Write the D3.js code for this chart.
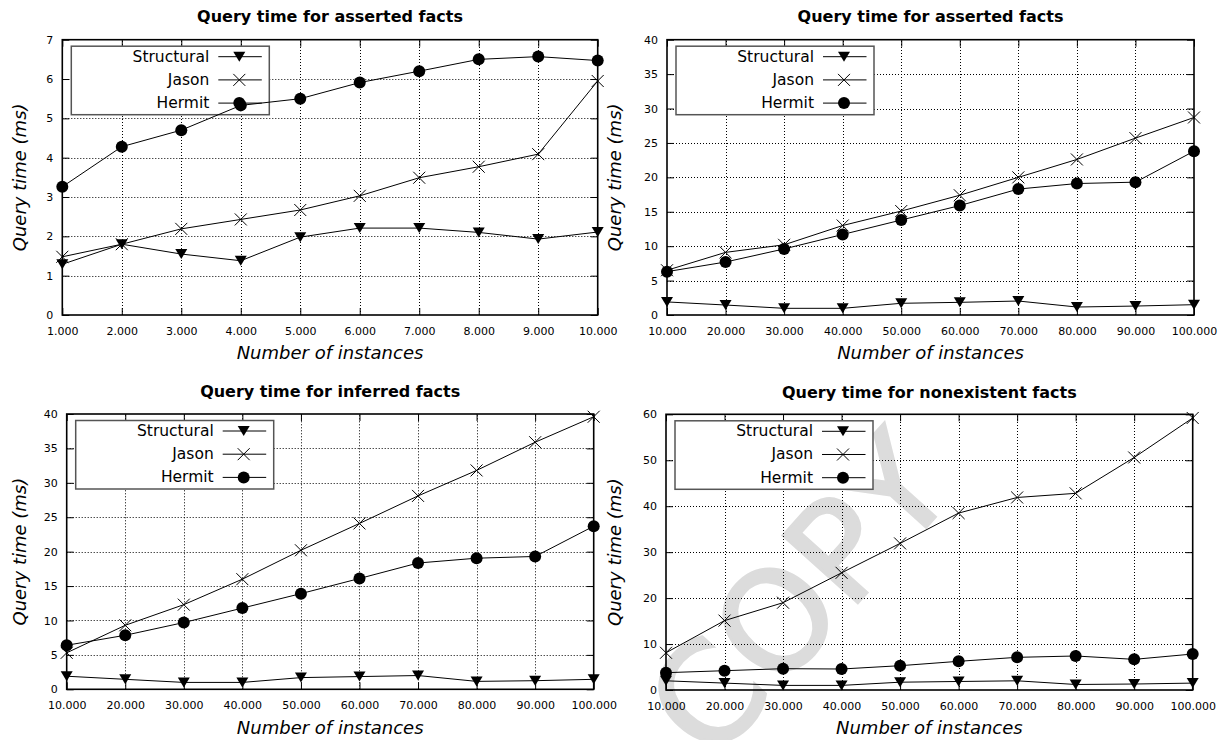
<!DOCTYPE html>
<html>
<head>
<meta charset="utf-8">
<script src="https://cdn.jsdelivr.net/npm/d3@7/dist/d3.min.js"></script>
<style>
  html, body { margin: 0; padding: 0; background: #fff; }
  svg { display: block; font-family: "DejaVu Sans", sans-serif; }
</style>
</head>
<body>
<svg id="chart" width="1226" height="740"></svg>
<script>
// ---------- data ----------
const instancesSmall = [1000, 2000, 3000, 4000, 5000, 6000, 7000, 8000, 9000, 10000];
const instancesLarge = [10000, 20000, 30000, 40000, 50000, 60000, 70000, 80000, 90000, 100000];
const seriesNames = ["Structural", "Jason", "Hermit"];
const panelTitles = [
  "Query time for asserted facts",
  "Query time for asserted facts",
  "Query time for inferred facts",
  "Query time for nonexistent facts"
];
const xAxisLabel = "Number of instances";
const yAxisLabel = "Query time (ms)";

const p1Structural = [1.29, 1.80, 1.55, 1.38, 1.98, 2.21, 2.21, 2.10, 1.93, 2.11];
const p1Jason      = [1.48, 1.80, 2.19, 2.43, 2.67, 3.03, 3.49, 3.77, 4.09, 5.95];
const p1Hermit     = [3.26, 4.28, 4.70, 5.33, 5.50, 5.91, 6.20, 6.50, 6.57, 6.47];

const p2Structural = [1.90, 1.45, 0.97, 0.97, 1.70, 1.84, 2.03, 1.16, 1.30, 1.50];
const p2Jason      = [6.5, 9.1, 10.2, 13.0, 15.1, 17.4, 20.0, 22.6, 25.7, 28.7];
const p2Hermit     = [6.3, 7.7, 9.6, 11.7, 13.8, 15.9, 18.3, 19.1, 19.3, 23.8];

const p3Structural = [1.90, 1.45, 1.00, 1.00, 1.70, 1.85, 2.00, 1.15, 1.25, 1.45];
const p3Jason      = [5.3, 9.3, 12.3, 16.0, 20.2, 24.1, 28.1, 31.8, 35.9, 39.6];
const p3Hermit     = [6.4, 7.85, 9.7, 11.8, 13.9, 16.1, 18.35, 19.05, 19.3, 23.7];

const p4Structural = [2.0, 1.5, 1.0, 1.0, 1.7, 1.85, 2.0, 1.2, 1.3, 1.5];
const p4Jason      = [8.1, 15.1, 19.0, 25.5, 31.9, 38.5, 41.9, 42.8, 50.6, 59.2];
const p4Hermit     = [3.77, 4.2, 4.64, 4.57, 5.29, 6.24, 7.11, 7.4, 6.67, 7.83];

const yTicks1 = [0, 1, 2, 3, 4, 5, 6, 7];
const yTicks2 = [0, 5, 10, 15, 20, 25, 30, 35, 40];
const yTicks4 = [0, 10, 20, 30, 40, 50, 60];
const watermarkText = "COPY";

// ---------- layout ----------
const panels = [
  { x0: 62.3, x1: 597.7, y0: 315,   y1: 39.7,  xs: instancesSmall, yt: yTicks1,
    series: [p1Structural, p1Jason, p1Hermit], title: panelTitles[0], titleY: 22,  xlabY: 359, ylabX: 26 },
  { x0: 667,  x1: 1194,  y0: 315,   y1: 39.7,  xs: instancesLarge, yt: yTicks2,
    series: [p2Structural, p2Jason, p2Hermit], title: panelTitles[1], titleY: 22,  xlabY: 359, ylabX: 621 },
  { x0: 66.7, x1: 593.7, y0: 689.3, y1: 414,   xs: instancesLarge, yt: yTicks2,
    series: [p3Structural, p3Jason, p3Hermit], title: panelTitles[2], titleY: 397, xlabY: 734, ylabX: 26 },
  { x0: 666,  x1: 1192.7, y0: 690,  y1: 414.3, xs: instancesLarge, yt: yTicks4,
    series: [p4Structural, p4Jason, p4Hermit], title: panelTitles[3], titleY: 398, xlabY: 734, ylabX: 621 }
];

const fmt = d3.formatLocale({ decimal: ",", thousands: ".", grouping: [3], currency: ["", ""] }).format(",d");
const yfmt = d3.format("d");
const svg = d3.select("#chart");

// watermark (behind everything)
svg.append("text")
  .attr("transform", "translate(800,596) rotate(-48)")
  .attr("text-anchor", "middle")
  .attr("dominant-baseline", "central")
  .attr("font-size", 138)
  .attr("fill", "#dcdcdc")
  .attr("stroke", "#dcdcdc")
  .attr("stroke-width", 3)
  .text(watermarkText);

function marker(g, type) {
  if (type === 0) {
    g.append("path").attr("d", "M-6,-5L6,-5L0,5Z").attr("fill", "#000");
  } else if (type === 1) {
    g.append("path").attr("d", "M-6,-6L6,6M-6,6L6,-6").attr("stroke", "#000").attr("stroke-width", 1).attr("fill", "none");
  } else {
    g.append("circle").attr("r", 6).attr("fill", "#000");
  }
}

panels.forEach(p => {
  const g = svg.append("g");
  const x = d3.scaleLinear().domain([p.xs[0], p.xs[p.xs.length - 1]]).range([p.x0, p.x1]);
  const y = d3.scaleLinear().domain([p.yt[0], p.yt[p.yt.length - 1]]).range([p.y0, p.y1]);

  // grid
  const grid = g.append("g").attr("stroke", "#000").attr("stroke-width", 1).attr("stroke-dasharray", "1,2");
  p.xs.slice(1, -1).forEach(v => {
    const xx = Math.round(x(v)) + 0.5;
    grid.append("line").attr("x1", xx).attr("x2", xx).attr("y1", p.y0).attr("y2", p.y1);
  });
  p.yt.slice(1, -1).forEach(v => {
    const yy = Math.round(y(v)) + 0.5;
    grid.append("line").attr("x1", p.x0).attr("x2", p.x1).attr("y1", yy).attr("y2", yy);
  });

  // axes with inward mirror ticks via d3 axes
  const tl = 7;
  const axB = d3.axisBottom(x).tickValues(p.xs).tickFormat(fmt).tickSizeInner(-tl).tickSizeOuter(0).tickPadding(12);
  const axT = d3.axisTop(x).tickValues(p.xs).tickFormat("").tickSizeInner(-tl).tickSizeOuter(0);
  const axL = d3.axisLeft(y).tickValues(p.yt).tickFormat(yfmt).tickSizeInner(-tl).tickSizeOuter(0).tickPadding(9);
  const axR = d3.axisRight(y).tickValues(p.yt).tickFormat("").tickSizeInner(-tl).tickSizeOuter(0);
  [[axB, `translate(0,${p.y0})`], [axT, `translate(0,${p.y1})`], [axL, `translate(${p.x0},0)`], [axR, `translate(${p.x1},0)`]]
    .forEach(([ax, tr]) => {
      const a = g.append("g").attr("transform", tr).call(ax);
      a.select(".domain").remove();
      a.selectAll("line").attr("stroke", "#000").attr("stroke-width", 1);
      a.selectAll("text").attr("font-family", "DejaVu Sans").attr("font-size", 11).attr("fill", "#000");
    });

  // legend
  const lx = p.x0 + 9, ly = p.y1 + 6.5;
  const leg = g.append("g").attr("transform", `translate(${lx},${ly})`);
  leg.append("rect").attr("width", 198).attr("height", 68.5).attr("fill", "#fff")
    .attr("stroke", "#555").attr("stroke-width", 1.5);
  seriesNames.forEach((name, i) => {
    const ry = 10.5 + i * 23.2;
    leg.append("text").attr("x", 138).attr("y", ry).attr("text-anchor", "end")
      .attr("dominant-baseline", "central").attr("font-size", 15.5).attr("fill", "#000").text(name);
    leg.append("line").attr("x1", 147).attr("x2", 190.5).attr("y1", ry).attr("y2", ry)
      .attr("stroke", "#000").attr("stroke-width", 1);
    marker(leg.append("g").attr("transform", `translate(168,${ry})`), i);
  });

  // series
  const line = d3.line().x((d, i) => x(p.xs[i])).y(d => y(d));
  p.series.forEach((s, si) => {
    g.append("path").datum(s).attr("d", line).attr("fill", "none").attr("stroke", "#000").attr("stroke-width", 1);
    s.forEach((v, i) => marker(g.append("g").attr("transform", `translate(${x(p.xs[i])},${y(v)})`), si));
  });

  // border
  g.append("rect").attr("x", p.x0).attr("y", p.y1).attr("width", p.x1 - p.x0).attr("height", p.y0 - p.y1)
    .attr("fill", "none").attr("stroke", "#000").attr("stroke-width", 1.6);

  // titles and labels
  const cx = (p.x0 + p.x1) / 2;
  g.append("text").attr("x", cx).attr("y", p.titleY).attr("text-anchor", "middle")
    .attr("font-weight", "bold").attr("font-size", 16).attr("fill", "#000").text(p.title);
  g.append("text").attr("x", cx).attr("y", p.xlabY).attr("text-anchor", "middle")
    .attr("font-style", "italic").attr("font-size", 18).attr("fill", "#000").text(xAxisLabel);
  g.append("text").attr("transform", `translate(${p.ylabX},${(p.y0 + p.y1) / 2}) rotate(-90)`)
    .attr("text-anchor", "middle").attr("font-style", "italic").attr("font-size", 18).attr("fill", "#000").text(yAxisLabel);
});
</script>
</body>
</html>
